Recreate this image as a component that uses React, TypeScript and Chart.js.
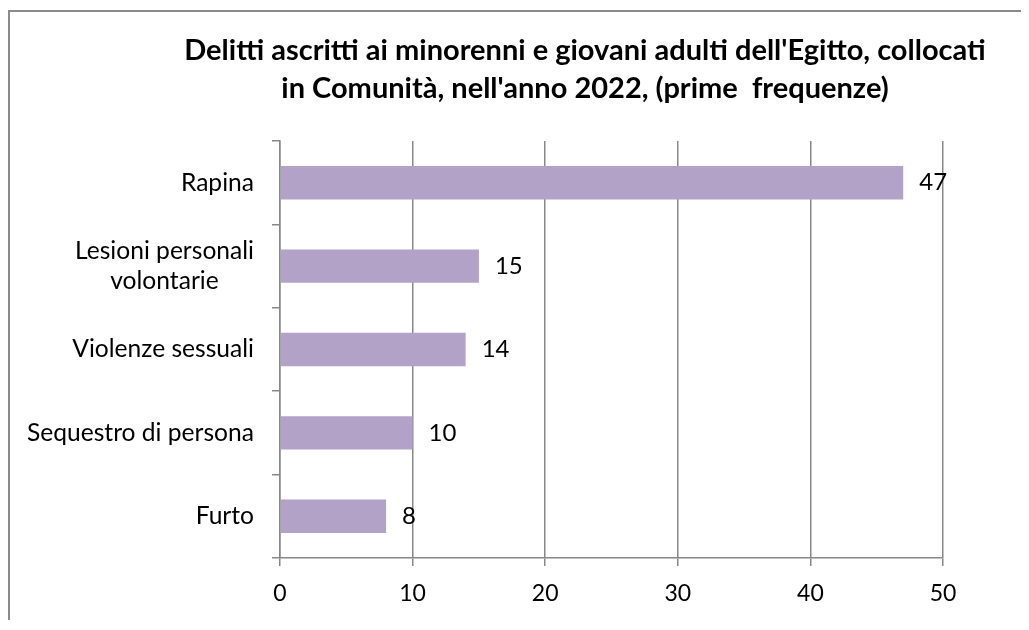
import React, { useEffect, useRef } from "react";
import { Chart, registerables } from "chart.js";

Chart.register(...registerables);

const categories: string[][] = [
  ["Rapina"],
  ["Lesioni personali", "volontarie"],
  ["Violenze sessuali"],
  ["Sequestro di persona"],
  ["Furto"],
];
const values: number[] = [47, 15, 14, 10, 8];
const xMin = 0;
const xMax = 50;
const xStep = 10;
const titleLines: string[] = [
  "Delitti ascritti ai minorenni e giovani adulti dell'Egitto, collocati",
  "in Comunità, nell'anno 2022, (prime  frequenze)",
];

const FONT = "Lato, 'Open Sans', sans-serif";
const BAR_COLOR = "#b3a2c7";
const GRID_COLOR = "#888888";
const CANVAS_W = 1150;
const CANVAS_H = 610;

const yLabelPlugin = {
  id: "yLabelPlugin",
  afterDraw(chart: any) {
    const y = chart.scales.y;
    const ctx = chart.ctx as CanvasRenderingContext2D;
    ctx.save();
    ctx.font = `24.6px ${FONT}`;
    ctx.fillStyle = "#000";
    ctx.textBaseline = "middle";
    ctx.textAlign = "center";
    const rightX = y.right - 26;
    const lh = 30;
    categories.forEach((lines, i) => {
      const cy = y.getPixelForValue(i);
      const w = Math.max(...lines.map((l) => ctx.measureText(l).width));
      const cx = rightX - w / 2;
      lines.forEach((l, j) => {
        ctx.fillText(l, cx, cy + (j - (lines.length - 1) / 2) * lh);
      });
    });
    ctx.restore();
  },
};

const valueLabelPlugin = {
  id: "valueLabelPlugin",
  afterDatasetsDraw(chart: any) {
    const ctx = chart.ctx as CanvasRenderingContext2D;
    const meta = chart.getDatasetMeta(0);
    ctx.save();
    ctx.font = `24px ${FONT}`;
    ctx.fillStyle = "#000";
    ctx.textAlign = "left";
    ctx.textBaseline = "middle";
    meta.data.forEach((bar: any, i: number) => {
      ctx.fillText(String(values[i]), bar.x + 16, bar.y);
    });
    ctx.restore();
  },
};

export default function App() {
  const canvasRef = useRef<HTMLCanvasElement | null>(null);

  useEffect(() => {
    if (!canvasRef.current) return;
    const chart = new Chart(canvasRef.current, {
      type: "bar",
      data: {
        labels: categories.map((c) => c.join(" ")),
        datasets: [
          {
            data: values,
            backgroundColor: BAR_COLOR,
            borderWidth: 0,
            barPercentage: 0.4,
            categoryPercentage: 1,
          },
        ],
      },
      options: {
        indexAxis: "y",
        animation: false,
        responsive: false,
        devicePixelRatio: 1,
        layout: { padding: 0 },
        plugins: {
          legend: { display: false },
          tooltip: { enabled: false },
          title: {
            display: true,
            text: titleLines,
            color: "#000",
            font: { family: FONT, size: 29, weight: "bold", lineHeight: 38 / 29 },
            padding: { top: 20, bottom: 33 },
          },
        },
        scales: {
          x: {
            type: "linear",
            min: xMin,
            max: xMax,
            ticks: {
              stepSize: xStep,
              color: "#000",
              font: { family: FONT, size: 23 },
              padding: 14,
            },
            grid: {
              color: GRID_COLOR,
              lineWidth: 1.5,
              tickLength: 8,
              drawTicks: true,
            },
            border: { color: GRID_COLOR, width: 1.5 },
            afterFit: (s: any) => {
              s.height = CANVAS_H - 546;
            },
          },
          y: {
            type: "category",
            position: "left",
            ticks: { color: "rgba(0,0,0,0)", font: { family: FONT, size: 22 } },
            grid: {
              drawOnChartArea: false,
              drawTicks: true,
              tickLength: 8,
              color: GRID_COLOR,
              lineWidth: 1.5,
            },
            border: { color: GRID_COLOR, width: 1.5 },
            afterFit: (s: any) => {
              s.width = 270;
            },
          },
          y2: {
            type: "category",
            position: "right",
            display: true,
            ticks: { display: false },
            grid: { display: false, drawTicks: false },
            border: { display: false },
            afterFit: (s: any) => {
              s.width = CANVAS_W - 933;
            },
          },
        },
      },
      plugins: [yLabelPlugin, valueLabelPlugin],
    });
    return () => chart.destroy();
  }, []);

  return (
    <div
      style={{
        position: "relative",
        top: 2,
        width: 1019,
        height: 612,
        boxSizing: "border-box",
        borderTop: "2px solid #8a8a8a",
        borderLeft: "2px solid #8a8a8a",
        overflow: "hidden",
        background: "#fff",
      }}
    >
      <canvas
        ref={canvasRef}
        width={CANVAS_W}
        height={CANVAS_H}
        style={{ display: "block", width: CANVAS_W, height: CANVAS_H }}
      />
    </div>
  );
}
